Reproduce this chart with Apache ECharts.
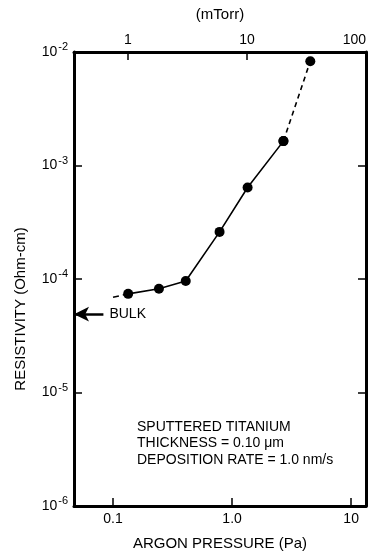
<!DOCTYPE html>
<html>
<head>
<meta charset="utf-8">
<script src="https://cdn.jsdelivr.net/npm/echarts@6/dist/echarts.min.js"></script>
<style>
html,body{margin:0;padding:0;background:#fff;}
#chart{width:369px;height:560px;}
</style>
</head>
<body>
<div id="chart"></div>
<script>
// ---- data ----
const pressurePa = [0.134, 0.243, 0.408, 0.785, 1.35, 2.7, 4.54];
const resistivity = [7.4e-5, 8.2e-5, 9.6e-5, 2.6e-4, 6.4e-4, 1.64e-3, 8.3e-3];
const extrapPa = [0.1, 0.134];
const extrapRes = [6.9e-5, 7.4e-5];
const bulkResistivity = 4.9e-5;
const paTickLabels = {'0.1': '0.1', '1': '1.0', '10': '10'};
const mTorrTickLabels = {'1': '1', '10': '10', '100': '100'};
const annotationLines = ['SPUTTERED TITANIUM', 'THICKNESS = 0.10 \u03bcm', 'DEPOSITION RATE = 1.0 nm/s'];
const PA_PER_MTORR = 0.13332;
const mTorrMin = 0.3525, mTorrMax = 100;
const xMinPa = mTorrMin * PA_PER_MTORR, xMaxPa = mTorrMax * PA_PER_MTORR;

const FONT = '"Liberation Sans", Arial, sans-serif';
const solidIdx = [0,1,2,3,4,5];
const dashIdx = [5,6];

function isPow10(v){ const l = Math.log10(v); return Math.abs(l - Math.round(l)) < 1e-3; }
function keyOf(v){ return String(Math.pow(10, Math.round(Math.log10(v)))); }

const chart = echarts.init(document.getElementById('chart'), null, {renderer:'canvas'});
const axisLine = {show:true, lineStyle:{color:'#000', width:3}};
const tick = {show:true, inside:true, length:8, lineStyle:{color:'#000', width:1.5}};

chart.setOption({
  animation:false,
  backgroundColor:'#fff',
  grid:{left:74, right:3, top:52, bottom:54, containLabel:false, outerBoundsMode:'none'},
  xAxis:[{
    type:'log', logBase:10, position:'bottom', min:xMinPa, max:xMaxPa,
    axisLine:axisLine, axisTick:tick, splitLine:{show:false}, minorTick:{show:false},
    axisLabel:{color:'#000', fontFamily:FONT, fontSize:14, margin:6,
      formatter:v => isPow10(v) ? (paTickLabels[keyOf(v)] || '') : ''},
    name:'ARGON PRESSURE (Pa)', nameLocation:'middle', nameGap:30,
    nameTextStyle:{color:'#000', fontFamily:FONT, fontSize:15}
  },{
    type:'log', logBase:10, position:'top', min:mTorrMin, max:mTorrMax,
    axisLine:axisLine, axisTick:tick, splitLine:{show:false}, minorTick:{show:false},
    axisLabel:{color:'#000', fontFamily:FONT, fontSize:14, margin:5, showMaxLabel:true,
      alignMaxLabel:'right',
      formatter:v => isPow10(v) ? (mTorrTickLabels[keyOf(v)] || '') : ''},
    name:'(mTorr)', nameLocation:'middle', nameGap:30,
    nameTextStyle:{color:'#000', fontFamily:FONT, fontSize:15}
  }],
  yAxis:[{
    type:'log', logBase:10, position:'left', min:1e-6, max:1e-2,
    axisLine:axisLine, axisTick:tick, splitLine:{show:false}, minorTick:{show:false},
    axisLabel:{color:'#000', fontFamily:FONT, margin:6,
      formatter:v => '{b|10}{s|' + Math.round(Math.log10(v)) + '}',
      rich:{b:{fontFamily:FONT, fontSize:14, color:'#000'},
            s:{fontFamily:FONT, fontSize:11, color:'#000', padding:[0,0,10,1]}}},
    name:'RESISTIVITY (Ohm-cm)', nameLocation:'middle', nameGap:46,
    nameTextStyle:{color:'#000', fontFamily:FONT, fontSize:15, padding:[0,60,0,0]}
  },{
    type:'log', logBase:10, position:'right', min:1e-6, max:1e-2,
    axisLine:axisLine, axisTick:tick, splitLine:{show:false}, minorTick:{show:false},
    axisLabel:{show:false}
  }],
  series:[{
    type:'line', xAxisIndex:0, yAxisIndex:0,
    data: solidIdx.map(i => [pressurePa[i], resistivity[i]]),
    symbol:'circle', symbolSize:10, itemStyle:{color:'#000'},
    lineStyle:{color:'#000', width:1.6, type:'solid'},
    markLine:{
      silent:true, animation:false,
      lineStyle:{color:'#000', width:2.5, type:'solid'},
      label:{show:true, position:'end', formatter:'BULK', color:'#000', fontFamily:FONT, fontSize:14, distance:6},
      data:[[{coord:[xMinPa, bulkResistivity], symbol:'arrow', symbolSize:[11,15]},
             {coord:[0.083, bulkResistivity], symbol:'none'}]]
    }
  },{
    type:'line', xAxisIndex:0, yAxisIndex:0,
    data: dashIdx.map(i => [pressurePa[i], resistivity[i]]),
    symbol:'circle', symbolSize:10, itemStyle:{color:'#000'},
    lineStyle:{color:'#000', width:1.6, type:[5,4]}
  },{
    type:'line', xAxisIndex:0, yAxisIndex:0,
    data: extrapPa.map((p,i) => [p, extrapRes[i]]),
    symbol:'none',
    lineStyle:{color:'#000', width:1.6, type:[6,4]}
  }],
  graphic: annotationLines.map((t,i) => ({
    type:'text', left:137, top:420 + i*16.5,
    style:{text:t, fill:'#000', font:'14px ' + FONT}
  }))
});
</script>
</body>
</html>
